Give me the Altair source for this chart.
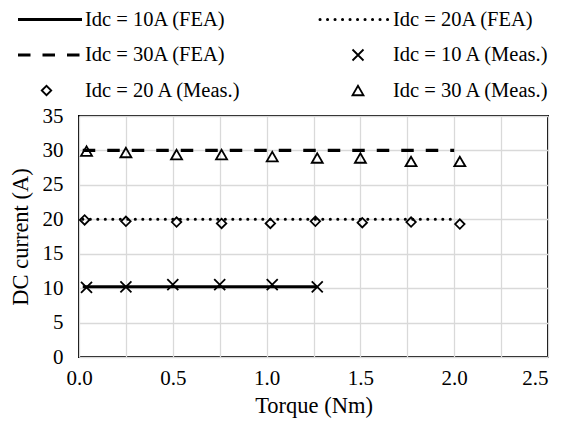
import altair as alt
import pandas as pd

# Measured points
torque_10 = [0.04, 0.25, 0.50, 0.75, 1.03, 1.27]
idc_10 = [10.1, 10.2, 10.5, 10.5, 10.5, 10.2]
torque_20 = [0.03, 0.25, 0.52, 0.76, 1.02, 1.26, 1.51, 1.77, 2.03]
idc_20 = [19.9, 19.7, 19.6, 19.4, 19.4, 19.7, 19.5, 19.6, 19.3]
torque_30 = [0.04, 0.25, 0.52, 0.76, 1.03, 1.27, 1.50, 1.77, 2.03]
idc_30 = [29.9, 29.7, 29.4, 29.4, 29.1, 28.9, 28.9, 28.4, 28.4]

# FEA lines
fea_10_x = [0.02, 1.27]
fea_10_y = [10.2, 10.2]
fea_20_x = [0.02, 2.0]
fea_20_y = [20.0, 20.0]
fea_30_x = [0.02, 2.0]
fea_30_y = [30.0, 30.0]

x_ticks = [0, 0.25, 0.5, 0.75, 1.0, 1.25, 1.5, 1.75, 2.0, 2.25, 2.5]
y_ticks = [0, 5, 10, 15, 20, 25, 30, 35]

FONT = "'Liberation Serif', 'Times New Roman', Times, serif"
FS = 21
TFS = 22.5

xs = alt.Scale(domain=[0, 2.5], nice=False, zero=False)
ys = alt.Scale(domain=[0, 35], nice=False)

x_axis = alt.Axis(values=x_ticks, title="Torque (Nm)",
                  labelExpr="datum.value % 0.5 == 0 ? format(datum.value, '.1f') : ''",
                  labelAlign={"condition": {"test": "datum.value >= 2.49", "value": "right"},
                              "value": "center"},
                  ticks=False, domain=False, grid=True, gridColor="#d9d9d9", gridWidth=1.3,
                  labelPadding=10, titlePadding=6, labelFlush=False, labelOverlap=False)
y_axis = alt.Axis(values=y_ticks, title="DC current (A)", ticks=False, domain=False,
                  grid=True, gridColor="#d9d9d9", gridWidth=1.3,
                  labelExpr="format(datum.value, 'd')",
                  labelPadding=16, titlePadding=10, labelOverlap=False)


def line_df(xv, yv):
    return pd.DataFrame({"torque": xv, "idc": yv})


def fea_line(xv, yv, **kw):
    return alt.Chart(line_df(xv, yv)).mark_line(color="black", **kw).encode(
        x=alt.X("torque:Q", scale=xs, axis=x_axis),
        y=alt.Y("idc:Q", scale=ys, axis=y_axis),
    )


def meas(xv, yv, shape, size):
    return alt.Chart(line_df(xv, yv)).mark_point(
        shape=shape, size=size, filled=False, color="black", strokeWidth=1.8, opacity=1
    ).encode(
        x=alt.X("torque:Q", scale=xs, axis=x_axis),
        y=alt.Y("idc:Q", scale=ys, axis=y_axis),
    )


XSHAPE = "M-1,-1L1,1M-1,1L1,-1"

l10 = fea_line(fea_10_x, fea_10_y, strokeWidth=3)
l20 = fea_line(fea_20_x, fea_20_y, strokeWidth=3, strokeDash=[0.1, 7.4], strokeCap="round")
l30 = fea_line(fea_30_x, fea_30_y, strokeWidth=3.2, strokeDash=[12.5, 12])

m10 = meas(torque_10, idc_10, XSHAPE, 121)
m20 = meas(torque_20, idc_20, "diamond", 90)
m30 = meas(torque_30, idc_30, "triangle-up", 121)

# Legend (drawn manually above the plot area)
def leg_text(x, y, txt):
    return alt.Chart().mark_text(align="left", baseline="middle", font=FONT,
                                 fontSize=20.5, color="black").encode(
        x=alt.value(x), y=alt.value(y), text=alt.value(txt))


def leg_rule(x1, x2, y, **kw):
    return alt.Chart().mark_rule(color="black", **kw).encode(
        x=alt.value(x1), x2=alt.value(x2), y=alt.value(y))


def leg_sym(x, y, shape, size):
    return alt.Chart().mark_point(shape=shape, size=size, filled=False, color="black",
                                  strokeWidth=1.8, opacity=1).encode(
        x=alt.value(x), y=alt.value(y))


r1, r2, r3 = -96.5, -61, -25.5
c1_text, c2_text = 6, 314
legend = [
    leg_rule(-61, 3, r1, strokeWidth=3),
    leg_text(c1_text, r1, "Idc = 10A (FEA)"),
    leg_rule(241, 311, r1, strokeWidth=3, strokeDash=[0.1, 7.4], strokeCap="round"),
    leg_text(c2_text, r1, "Idc = 20A (FEA)"),
    leg_rule(-61, 3, r2, strokeWidth=3.2, strokeDash=[12.5, 12]),
    leg_text(c1_text, r2, "Idc = 30A (FEA)"),
    leg_sym(279, r2, XSHAPE, 121),
    leg_text(c2_text, r2, "Idc = 10 A (Meas.)"),
    leg_sym(-32.5, r3, "diamond", 90),
    leg_text(c1_text, r3, "Idc = 20 A (Meas.)"),
    leg_sym(279, r3, "triangle-up", 121),
    leg_text(c2_text, r3, "Idc = 30 A (Meas.)"),
]

chart = alt.layer(l10, l20, l30, m10, m20, m30, *legend).properties(
    width=469, height=241,
    autosize=alt.AutoSizeParams(type="none"),
    padding={"left": 71, "top": 108, "right": 5, "bottom": 63},
).configure_view(
    stroke="black", strokeWidth=2
).configure_axis(
    labelFont=FONT, titleFont=FONT, labelFontSize=FS, titleFontSize=TFS,
    labelColor="black", titleColor="black", titleFontWeight="normal",
    labelOverlap=False
)

chart.save("out.html", embed_options={"renderer": "svg", "actions": False})
